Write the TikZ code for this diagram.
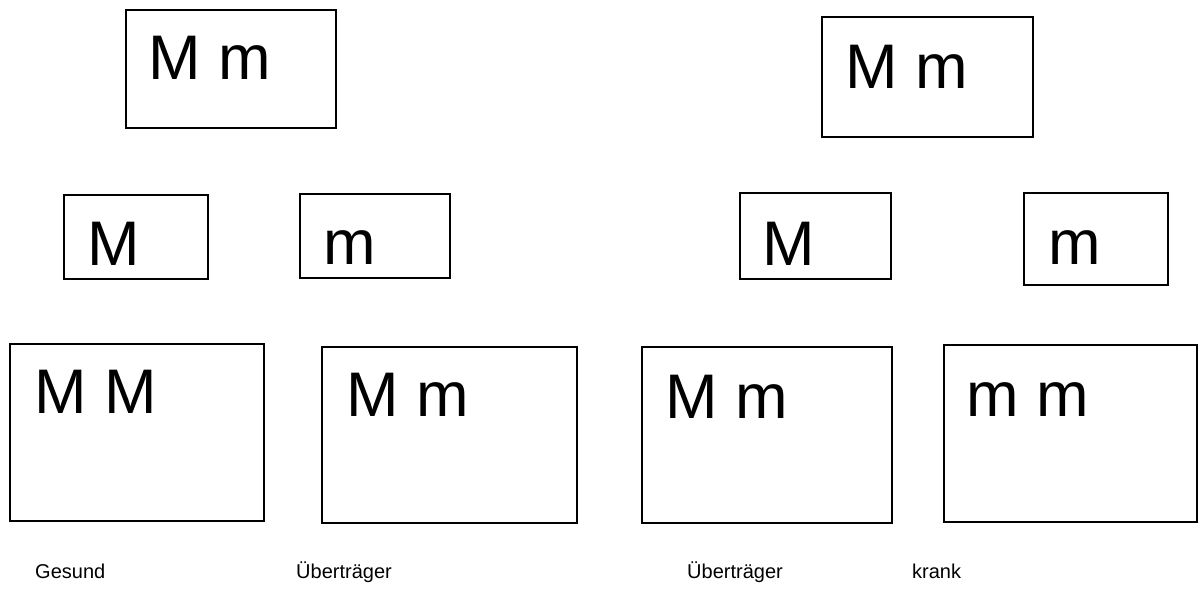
\documentclass[tikz,border=0pt]{standalone}
\usepackage{fontspec}
\setmainfont{Liberation Sans}
\begin{document}
\begin{tikzpicture}[x=1pt,y=-1pt,
  gbox/.style={draw=black,line width=1.6pt,fill=white,inner sep=0pt},
  allele/.style={anchor=base west,inner sep=0pt,font=\fontsize{63}{63}\selectfont},
  caption/.style={anchor=base west,inner sep=0pt,font=\fontsize{20}{20}\selectfont}]
\useasboundingbox (0,0) rectangle (1204,615);
% boxes: (left, top) -- (right, bottom)
\newcommand{\gbox}[5]{\node[gbox,minimum width=#4-#2,minimum height=#5-#3] (#1) at ({(#2+#4)/2},{(#3+#5)/2}) {};}
% parents
\gbox{pL}{126}{10}{336}{128}
\gbox{pR}{822}{17}{1033}{137}
% gametes
\gbox{gLM}{64}{195}{208}{279}
\gbox{gLm}{300}{194}{450}{278}
\gbox{gRM}{740}{193}{891}{279}
\gbox{gRm}{1024}{193}{1168}{285}
% offspring
\gbox{oMM}{10}{344}{264}{521}
\gbox{oMm}{322}{347}{577}{523}
\gbox{oMmR}{642}{347}{892}{523}
\gbox{omm}{944}{345}{1197}{522}
% genotypes
\node[allele] (tpL) at (148,80) {M m};
\node[allele] (tpR) at (845,89) {M m};
\node[allele] (tgLM) at (87,265) {M};
\node[allele] (tgLm) at (323,264) {m};
\node[allele] (tgRM) at (762,265) {M};
\node[allele] (tgRm) at (1048,264) {m};
\node[allele] (toMM) at (34,413) {M M};
\node[allele] (toMm) at (346,416) {M m};
\node[allele] (toMmR) at (665,418) {M m};
\node[allele] (tomm) at (966,416) {m m};
% phenotype captions
\node[caption] (c1) at (35,578) {Gesund};
\node[caption] (c2) at (296,578) {Überträger};
\node[caption] (c3) at (687,578) {Überträger};
\node[caption] (c4) at (912,578) {krank};
\end{tikzpicture}
\end{document}
